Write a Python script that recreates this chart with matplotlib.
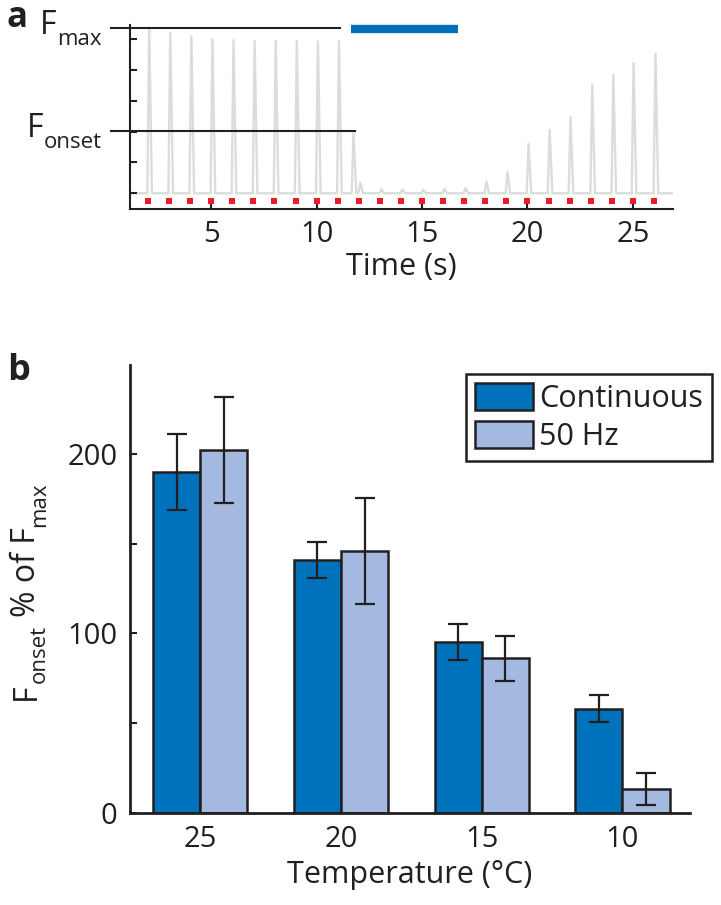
import matplotlib
matplotlib.use("Agg")
import matplotlib.pyplot as plt

plt.rcParams['font.family'] = ['Open Sans', 'DejaVu Sans']
plt.rcParams['mathtext.default'] = 'regular'

# panel a: force trace (arbitrary units), peak times (s) and heights
peak_t = [2.06, 3.06, 4.06, 5.06, 6.06, 7.06, 8.06, 9.06, 10.06, 11.06,
          11.75, 12.07, 13.07, 14.07, 15.06, 16.06, 17.06, 18.05, 19.05,
          20.05, 21.05, 22.04, 23.07, 24.07, 25.03, 26.07]
peak_f = [5.34, 5.20, 5.09, 4.99, 4.96, 4.94, 4.93, 4.93, 4.92, 4.93,
          1.95, 0.34, 0.14, 0.12, 0.11, 0.14, 0.17, 0.38, 0.69,
          1.60, 2.05, 2.47, 3.51, 3.84, 4.21, 4.52]
stim_t = list(range(2, 27))
f_max = 5.35
f_onset = 2.02
cont_on, cont_off = 11.63, 16.7

# panel b
temps = ['25', '20', '15', '10']
cont_mean = [190, 141, 95, 58]
cont_err = [21, 10, 10, 7.5]
hz_mean = [202, 146, 86, 13]
hz_err = [29.5, 29.5, 12.5, 9]

dark = '#0072bb'
light = '#a3b9e0'
ink = '#231f20'

W, H = 721, 905
fig = plt.figure(figsize=(W / 100, H / 100), dpi=100)


def box(l, t, r, b):
    return [l / W, 1 - b / H, (r - l) / W, (b - t) / H]


def chain(parts, x0, y0, rotation=0, right=False):
    """pieces of text (str, size, drop_px, gap_px) set one after another,
    x0/y0 in figure pixels from the top left, at the first baseline"""
    rend = fig.canvas.get_renderer()
    texts = []
    lengths = []
    for s, size, drop, gap in parts:
        t = fig.text(0, 0, s, fontsize=size, color=ink, ha='left',
                     va='baseline', rotation=rotation, rotation_mode='anchor')
        bb = t.get_window_extent(rend)
        texts.append(t)
        lengths.append(bb.width if rotation == 0 else bb.height)
    total = sum(lengths) + sum(p[3] for p in parts[:-1])
    pos = -total if right else 0
    for t, (s, size, drop, gap), ln in zip(texts, parts, lengths):
        if rotation == 0:
            t.set_position(((x0 + pos) / W, 1 - (y0 + drop) / H))
        else:
            t.set_position(((x0 + drop) / W, 1 - (y0 - pos) / H))
        pos += ln + gap


# ---------- panel a ----------
ax1 = fig.add_axes(box(130, 25, 673, 209))
tt = [1.15]
ff = [0]
for t, f in zip(peak_t, peak_f):
    tt += [t - 0.09, t, t + 0.13]
    ff += [0, f, 0]
tt.append(26.9)
ff.append(0)
ax1.plot(tt, ff, color='#dcdcdc', lw=1.7, solid_joinstyle='round', zorder=1)
ax1.plot(stim_t, [-0.25] * len(stim_t), ls='none', marker='s', ms=4.3,
         color='#ed1c24', mew=0, zorder=2)

ax1.plot([0.25, 11.13], [f_max, f_max], color=ink, lw=1.5, clip_on=False)
ax1.plot([0.25, 11.84], [f_onset, f_onset], color=ink, lw=1.5, clip_on=False)
ax1.plot([cont_on, cont_off], [5.33, 5.33], color=dark, lw=6,
         solid_capstyle='butt', clip_on=False)

ax1.set_xlim(1.15, 26.9)
ax1.set_ylim(-0.51, 5.45)
ax1.set_xticks([5, 10, 15, 20, 25])
ax1.set_yticks([0, 1, 2, 3, 4, 5])
ax1.set_yticklabels([])
for s in ['top', 'right']:
    ax1.spines[s].set_visible(False)
for s in ['left', 'bottom']:
    ax1.spines[s].set_linewidth(1.5)
    ax1.spines[s].set_color(ink)
ax1.tick_params(direction='in', length=5, width=1.5, color=ink,
                labelsize=21, labelcolor=ink, pad=8)
ax1.set_xlabel('Time (s)', fontsize=22, color=ink, labelpad=2)

chain([('F', 23, 0, 1), ('max', 16, 11, 0)], 102, 34, right=True)
chain([('F', 23, 0, 1), ('onset', 16, 11, 0)], 102, 137, right=True)

fig.text(7 / W, 1 - 27 / H, 'a', fontsize=25, fontweight='bold',
         color=ink, ha='left', va='baseline')

# ---------- panel b ----------
ax2 = fig.add_axes(box(130, 365, 690, 812.6))
x = range(1, len(temps) + 1)
w = 0.335
xd = [i - w / 2 for i in x]
xl = [i + w / 2 for i in x]
ax2.bar(xd, cont_mean, width=w, color=dark, edgecolor=ink, lw=1.8,
        label='Continuous', zorder=2)
ax2.bar(xl, hz_mean, width=w, color=light, edgecolor=ink, lw=1.8,
        label='50 Hz', zorder=2)
ax2.errorbar(xd, cont_mean, yerr=cont_err, fmt='none', ecolor=ink,
             elinewidth=1.6, capsize=7, capthick=1.6, zorder=3)
ax2.errorbar(xl, hz_mean, yerr=hz_err, fmt='none', ecolor=ink,
             elinewidth=1.6, capsize=7, capthick=1.6, zorder=3)

ax2.set_xlim(0.5, 4.48)
ax2.set_ylim(0, 249.6)
ax2.set_xticks(list(x))
ax2.set_xticklabels(temps)
ax2.set_yticks([0, 50, 100, 150, 200])
ax2.set_yticklabels(['0', '', '100', '', '200'])
for s in ['top', 'right']:
    ax2.spines[s].set_visible(False)
for s in ['left', 'bottom']:
    ax2.spines[s].set_linewidth(2)
    ax2.spines[s].set_color(ink)
ax2.tick_params(direction='in', length=5, width=1.5, color=ink,
                labelsize=21, labelcolor=ink, pad=9)
ax2.tick_params(axis='x', length=0)
ax2.set_xlabel('Temperature (°C)', fontsize=22, color=ink, labelpad=4)

# y label with real subscripts, read bottom to top
chain([('F', 23, 0, 1), ('onset', 16, 10, 7), ('% of F', 23, 0, 1),
       ('max', 16, 10, 0)], 35, 700, rotation=90)

leg = ax2.legend(loc='upper right', bbox_to_anchor=(712 / W, 1 - 374 / H),
                 bbox_transform=fig.transFigure, borderaxespad=0,
                 fontsize=22, fancybox=False, edgecolor=ink, framealpha=1,
                 handlelength=1.9, handleheight=0.95, handletextpad=0.2,
                 labelspacing=0.25, borderpad=0.3)
leg.get_frame().set_linewidth(1.8)
for t in leg.get_texts():
    t.set_color(ink)

fig.text(7 / W, 1 - 380 / H, 'b', fontsize=26, fontweight='bold',
         color=ink, ha='left', va='baseline')

fig.savefig('out.png', dpi=100)
